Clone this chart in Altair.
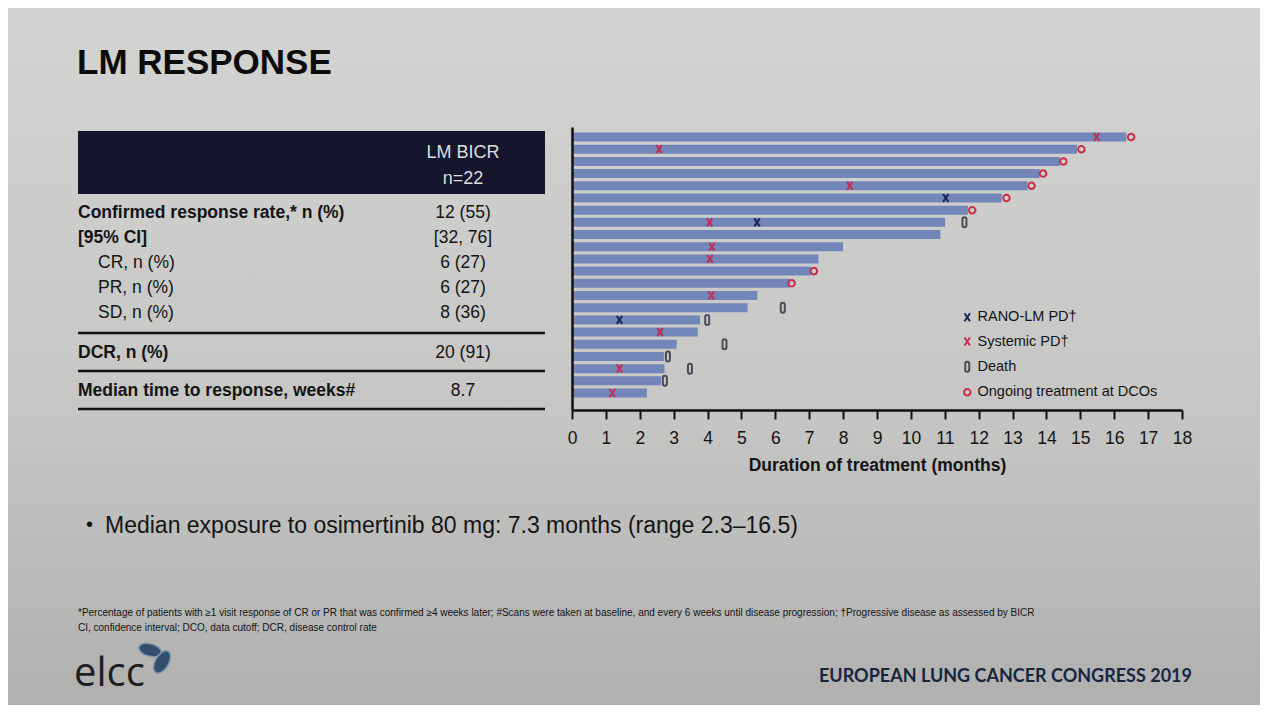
import altair as alt
import pandas as pd

# ---------------- data ----------------
ranks = list(range(1, 23))
durations = [16.36, 14.9, 14.4, 13.8, 13.44, 12.68, 11.68, 11.01, 10.87, 8.0, 7.27,
             7.05, 6.42, 5.47, 5.18, 3.78, 3.71, 3.09, 2.71, 2.73, 2.63, 2.21]

event_types = ["RANO-LM PD\u2020", "Systemic PD\u2020", "Death", "Ongoing treatment at DCOs"]
rano_rank = [6, 8, 16]
rano_month = [11.03, 5.46, 1.40]
sys_rank = [1, 2, 5, 8, 10, 11, 14, 17, 20, 22]
sys_month = [15.48, 2.57, 8.2, 4.06, 4.13, 4.07, 4.11, 2.6, 1.40, 1.19]
death_rank = [8, 15, 16, 18, 19, 20, 21]
death_month = [11.58, 6.22, 3.99, 4.5, 2.83, 3.48, 2.74]
ongoing_rank = [1, 2, 3, 4, 5, 6, 7, 12, 13]
ongoing_month = [16.5, 15.03, 14.5, 13.9, 13.56, 12.82, 11.81, 7.14, 6.48]

x_ticks = list(range(0, 19))

table_header = ["LM BICR", "n=22"]
row_labels = ["Confirmed response rate,* n (%)", "[95% CI]", "CR, n (%)", "PR, n (%)",
              "SD, n (%)", "DCR, n (%)", "Median time to response, weeks#"]
row_values = ["12 (55)", "[32, 76]", "6 (27)", "6 (27)", "8 (36)", "20 (91)", "8.7"]

title_text = "LM RESPONSE"
bullet_text = "Median exposure to osimertinib 80 mg: 7.3 months (range 2.3\u201316.5)"
footnotes = [
    "*Percentage of patients with \u22651 visit response of CR or PR that was confirmed \u22654 weeks later; "
    "#Scans were taken at baseline, and every 6 weeks until disease progression; "
    "\u2020Progressive disease as assessed by BICR",
    "CI, confidence interval; DCO, data cutoff; DCR, disease control rate",
]
logo_text = "elcc"
congress_text = "EUROPEAN LUNG CANCER CONGRESS 2019"

# ---------------- styling ----------------
SANS = "Liberation Sans, Arial, sans-serif"
INK = "#141414"
BAR = "#7286ba"
NAVY = "#15152d"

W, H = 610, 283
OX, OY = 572, 127  # screen position of plot-area origin


def rx(sx):
    return sx - OX


def ry(sy):
    return sy - OY


one = alt.Data(values=[{}])


def txt(s, sx, sy, size, weight="normal", color=INK, align="left",
        baseline="alphabetic", font=SANS):
    return alt.Chart(one).mark_text(
        text=s, font=font, fontSize=size, fontWeight=weight, color=color,
        align=align, baseline=baseline
    ).encode(x=alt.value(rx(sx)), y=alt.value(ry(sy)))


def hrule(sx1, sx2, sy, width=2.5, color="#111111"):
    return alt.Chart(one).mark_rule(strokeWidth=width, color=color).encode(
        x=alt.value(rx(sx1)), x2=alt.value(rx(sx2)), y=alt.value(ry(sy)))


layers = []

# background (photo-like gradient)
bg = alt.Chart(one).mark_rect(
    fill=alt.LinearGradient(
        gradient="linear",
        stops=[alt.GradientStop(color="#d3d3d1", offset=0),
               alt.GradientStop(color="#c7c7c5", offset=0.55),
               alt.GradientStop(color="#b0b0af", offset=1)],
        x1=0, x2=0, y1=0, y2=1),
    strokeWidth=0
).encode(x=alt.value(-OX + 8), x2=alt.value(1260 - OX),
         y=alt.value(-OY + 8), y2=alt.value(705 - OY))
layers.append(bg)

# title
layers.append(txt(title_text, 77, 74, 35, weight="bold", color="#0c0c0c"))

# table header
layers.append(alt.Chart(one).mark_rect(color=NAVY).encode(
    x=alt.value(rx(78)), x2=alt.value(rx(545)), y=alt.value(ry(131)), y2=alt.value(ry(194))))
layers.append(txt(table_header[0], 463, 153, 18, color="#dedede", align="center", baseline="middle"))
layers.append(txt(table_header[1], 463, 179, 18, color="#dedede", align="center", baseline="middle"))

row_y = [213, 238, 263, 288, 313, 353, 391]
row_bold = [True, True, False, False, False, True, True]
row_x = [78, 78, 98, 98, 98, 78, 78]
for lab, val, yy, b, xx in zip(row_labels, row_values, row_y, row_bold, row_x):
    layers.append(txt(lab, xx, yy, 17.5, weight="bold" if b else "normal", baseline="middle"))
    layers.append(txt(val, 463, yy, 17.5, align="center", baseline="middle"))
for yy in [333, 371, 409]:
    layers.append(hrule(78, 545, yy))

# bullet
layers.append(txt("\u2022", 86, 531, 20))
layers.append(txt(bullet_text, 105, 533, 23))

# footnotes
layers.append(txt(footnotes[0], 78, 616, 10))
layers.append(txt(footnotes[1], 78, 631, 10))

# logo
layers.append(txt(logo_text, 74, 686, 40, font="Open Sans, Lato, sans-serif", color="#1e1e24"))
ELL = "M1,0A1,0.55,0,1,1,-1,0A1,0.55,0,1,1,1,0Z"
for sx, sy, ang, sz in [(150, 650, 15, 520), (162, 662, 120, 600)]:
    layers.append(alt.Chart(one).mark_point(
        shape=ELL, filled=True, size=sz, angle=ang, color="#344f6c", opacity=1,
        stroke="#7d95ad", strokeWidth=1.5
    ).encode(x=alt.value(rx(sx)), y=alt.value(ry(sy))))

# congress name
layers.append(txt(congress_text, 819, 682, 18, weight="bold", font="Lato, Open Sans, sans-serif",
                  color="#172640"))

# ---------------- chart ----------------
xsc = alt.Scale(domain=[0, 18], nice=False, zero=False)
ysc = alt.Scale(domain=[0.18, 23.39], reverse=True, nice=False, zero=False)

x_axis = alt.Axis(
    values=x_ticks, format="d", grid=False, labelFlush=False, zindex=2,
    labelFont=SANS, labelFontSize=17.5, labelColor=INK, labelPadding=10,
    tickSize=9, tickWidth=2, tickColor="#111111",
    domainColor="#111111", domainWidth=2.5,
    title="Duration of treatment (months)", titleFont=SANS, titleFontSize=17.5,
    titleFontWeight="bold", titleColor=INK, titlePadding=10)
y_axis = alt.Axis(title=None, labels=False, ticks=False, grid=False, zindex=2,
                  domainColor="#111111", domainWidth=2.5)

bars_df = pd.DataFrame({"rank": ranks, "start": [0] * len(ranks), "dur": durations})
bars = alt.Chart(bars_df).mark_rule(strokeWidth=9, color=BAR).encode(
    x=alt.X("start:Q", scale=xsc, axis=x_axis),
    x2="dur:Q",
    y=alt.Y("rank:Q", scale=ysc, axis=y_axis),
)
layers.append(bars)

ev_rows = []
for rr, mm, et in [(rano_rank, rano_month, 0), (sys_rank, sys_month, 1),
                   (death_rank, death_month, 2), (ongoing_rank, ongoing_month, 3)]:
    for r, m in zip(rr, mm):
        ev_rows.append({"rank": r, "month": m, "event": event_types[et]})
ev_df = pd.DataFrame(ev_rows)

XSHAPE = "M-0.55,-0.8L0.55,0.8M0.55,-0.8L-0.55,0.8"
DEATH = "M-0.4,-0.6A0.4,0.4,0,0,1,0.4,-0.6L0.4,0.6A0.4,0.4,0,0,1,-0.4,0.6Z"
CIRC = "M0.65,0A0.65,0.65,0,1,1,-0.65,0A0.65,0.65,0,1,1,0.65,0Z"

leg = alt.Legend(title=None, orient="none", legendX=388, legendY=183, padding=0,
                 labelFont=SANS, labelFontSize=14.5, labelColor=INK, labelOffset=3,
                 labelLimit=400, symbolSize=100, symbolStrokeWidth=2, rowPadding=7.3)

markers = alt.Chart(ev_df).mark_point(filled=False, size=100, strokeWidth=2, opacity=1).encode(
    x=alt.X("month:Q", scale=xsc, axis=x_axis),
    y=alt.Y("rank:Q", scale=ysc, axis=y_axis),
    color=alt.Color("event:N", scale=alt.Scale(
        domain=event_types, range=["#1b2452", "#c22d50", "#4b4b58", "#c93048"]), legend=leg),
    shape=alt.Shape("event:N", scale=alt.Scale(
        domain=event_types, range=[XSHAPE, XSHAPE, DEATH, CIRC]), legend=leg),
)
layers.append(markers)

chart = alt.layer(*layers).properties(
    width=W, height=H,
    padding={"left": OX - 8, "top": OY - 8, "right": 1252 - (OX - 8) - W,
             "bottom": 697 - (OY - 8) - H},
    autosize=alt.AutoSizeParams(type="none"),
    background="#c8c8c6",
).configure_view(stroke=None)

chart.save("out.html", embed_options={"renderer": "svg", "actions": False})
